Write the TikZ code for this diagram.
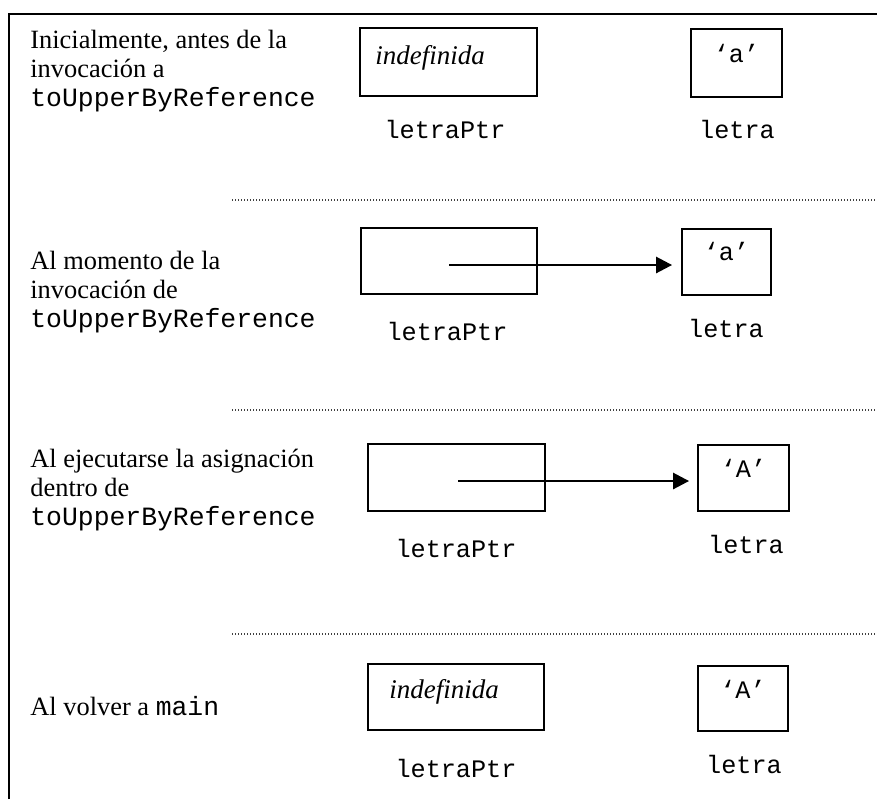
\documentclass[tikz,border=0pt]{standalone}
\usepackage{fontspec}
\setmainfont{Liberation Serif}
\setmonofont{Liberation Mono}
\usetikzlibrary{arrows.meta}
\begin{document}
\begin{tikzpicture}[x=0.5pt,y=-0.5pt,
  every node/.style={font=\fontsize{13.2}{14.5}\selectfont},
  frame/.style={line width=1.4pt, line join=miter},
  sep/.style={line width=0.6pt, dash pattern=on 0.5pt off 1pt, black!75},
  cell/.style={draw, line width=0.9pt, rectangle, inner sep=0pt},
  lbl/.style={anchor=base, inner sep=0pt, font=\fontsize{12.6}{14}\selectfont\ttfamily},
  ital/.style={anchor=base west, inner sep=0pt, font=\fontsize{13.5}{14.5}\selectfont\itshape},
  desc/.style={anchor=base west, inner sep=0pt, align=left},
  ptr/.style={line width=1.3pt, -{Triangle[length=8pt,width=8pt]}}
]
\useasboundingbox (0,0) rectangle (877,799);
% frame
\draw[frame] (9,799) -- (9,14) -- (877,14);
% separators
\draw[sep] (232,200) -- (877,200);
\draw[sep] (232,410) -- (877,410);
\draw[sep] (232,634) -- (877,634);

% row 1
\node[desc] (d1) at (30,106) {Inicialmente, antes de la\\invocación a\\\texttt{toUpperByReference}};
\node[cell, minimum width=88.5pt, minimum height=34pt] (p1) at (448.5,62) {};
\node[ital] (p1t) at (375,64) {indefinida};
\node[cell, minimum width=45.5pt, minimum height=34pt] (v1) at (736.5,63) {};
\node[lbl] (v1t) at (736.5,62) {‘a’};
\node[lbl] (p1l) at (445,138) {letraPtr};
\node[lbl] (v1l) at (737,138) {letra};

% row 2
\node[desc] (d2) at (30,327) {Al momento de la\\invocación de\\\texttt{toUpperByReference}};
\node[cell, minimum width=88pt, minimum height=33pt] (p2) at (449,261) {};
\node[cell, minimum width=44.5pt, minimum height=33pt] (v2) at (726.5,262) {};
\node[lbl] (v2t) at (726.5,260) {‘a’};
\node[lbl] (p2l) at (447,340) {letraPtr};
\node[lbl] (v2l) at (726,337) {letra};
\coordinate (s2) at (449,265);
\draw[ptr, shorten >=4.5pt] (s2) -- (s2 -| v2.west);

% row 3
\node[desc] (d3) at (30,525) {Al ejecutarse la asignación\\dentro de\\\texttt{toUpperByReference}};
\node[cell, minimum width=88.5pt, minimum height=33.5pt] (p3) at (456.5,477.5) {};
\node[cell, minimum width=45.5pt, minimum height=33pt] (v3) at (743.5,478) {};
\node[lbl] (v3t) at (743.5,477) {‘A’};
\node[lbl] (p3l) at (456,557) {letraPtr};
\node[lbl] (v3l) at (746,553) {letra};
\coordinate (s3) at (458,481);
\draw[ptr, shorten >=4pt] (s3) -- (s3 -| v3.west);

% row 4
\node[desc] (d4) at (30,715) {Al volver a \texttt{main}};
\node[cell, minimum width=88pt, minimum height=33pt] (p4) at (456,697) {};
\node[ital] (p4t) at (389,698) {indefinida};
\node[cell, minimum width=45pt, minimum height=32.5pt] (v4) at (743,698.5) {};
\node[lbl] (v4t) at (743,698) {‘A’};
\node[lbl] (p4l) at (456,777) {letraPtr};
\node[lbl] (v4l) at (744,773) {letra};
\end{tikzpicture}
\end{document}
